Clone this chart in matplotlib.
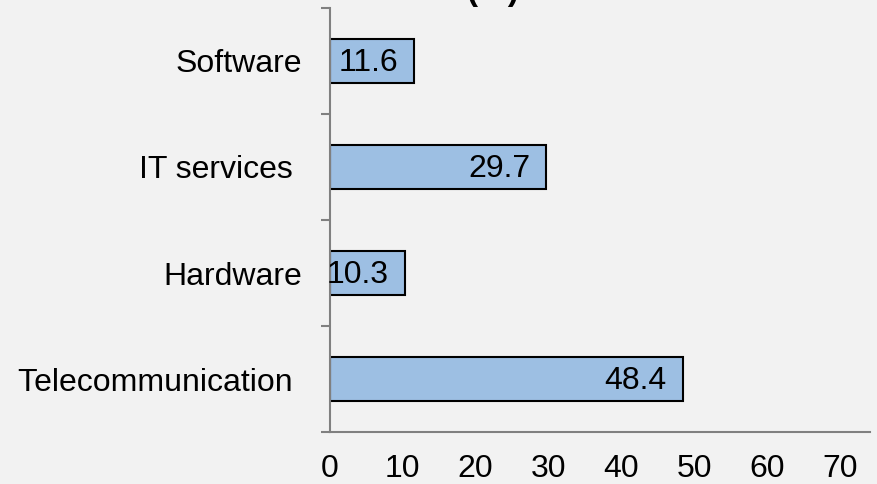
import matplotlib.pyplot as plt

# values (share in %)
categories = ["Telecommunication ", "Hardware", "IT services ", "Software"]
values = [48.4, 10.3, 29.7, 11.6]
xticks = [0, 10, 20, 30, 40, 50, 60, 70]

plt.rcParams['font.family'] = ['Liberation Sans', 'DejaVu Sans']

bg = '#f2f2f2'
fig = plt.figure(figsize=(8.77, 4.84), dpi=100, facecolor=bg)
ax = fig.add_axes([0.376, 0.1074, 0.616, 0.8761], facecolor=bg)

pos = range(len(categories))
bars = ax.barh(pos, values, height=0.41, color='#9dbfe3', edgecolor='black', linewidth=1.5)

# data labels sit inside the bar end
for b, v in zip(bars, values):
    ax.annotate(f"{v:.1f}", (b.get_width(), b.get_y() + b.get_height() / 2),
                xytext=(-16, -2), textcoords='offset pixels',
                ha='right', va='center', fontsize=23)

ax.set_xlim(0, 74.1)
ax.set_ylim(-0.5, len(categories) - 0.5)
ax.set_xticks(xticks)
ax.set_yticks(list(pos))
ax.set_yticklabels(categories)
ax.set_yticks([i - 0.5 for i in range(len(categories) + 1)], minor=True)

ax.tick_params(axis='x', length=0, pad=16, labelsize=23)
ax.tick_params(axis='y', which='major', length=0, pad=20, labelsize=23)
ax.tick_params(axis='y', which='minor', length=6.5, width=1.5, color='#808080')

for s in ['top', 'right']:
    ax.spines[s].set_visible(False)
for s in ['left', 'bottom']:
    ax.spines[s].set_color('#808080')
    ax.spines[s].set_linewidth(1.5)

# title sits mostly outside the picture, as in the source
fig.text(0.504, 0.999, "Share (%)", ha='center', va='baseline', fontsize=24, fontweight='bold')

fig.savefig('out.png', dpi=100, facecolor=bg)
